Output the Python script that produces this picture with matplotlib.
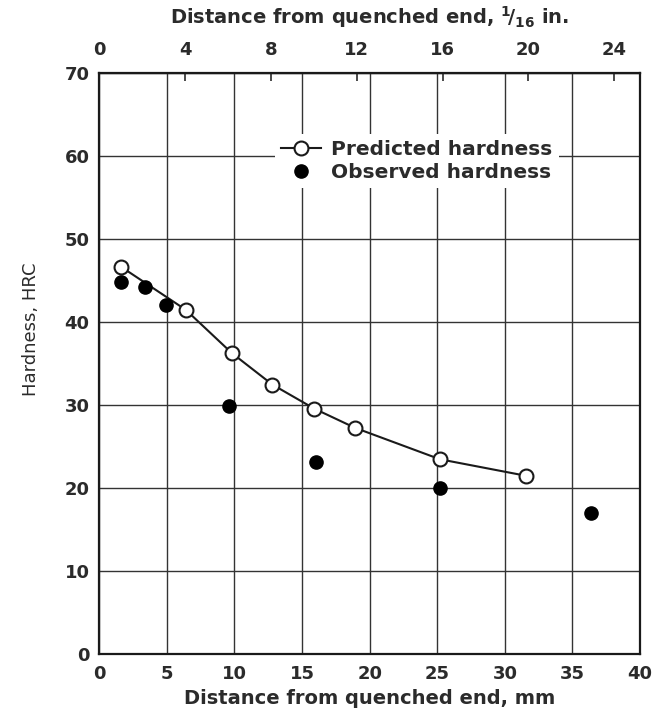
import matplotlib
matplotlib.use("Agg")
import matplotlib.pyplot as plt
import numpy as np

plt.rcParams['font.family'] = ['DejaVu Sans']
plt.rcParams['font.weight'] = 'bold'
plt.rcParams['axes.labelweight'] = 'bold'
plt.rcParams['mathtext.fontset'] = 'custom'
plt.rcParams['mathtext.rm'] = 'DejaVu Sans:bold'
plt.rcParams['mathtext.it'] = 'DejaVu Sans:bold'
plt.rcParams['mathtext.bf'] = 'DejaVu Sans:bold'

# Data (distance in mm, hardness HRC)
pred_x = [1.6, 6.4, 9.8, 12.8, 15.9, 18.9, 25.2, 31.6]
pred_y = [46.7, 41.5, 36.3, 32.5, 29.6, 27.3, 23.5, 21.5]
obs_x = [1.6, 3.4, 4.9, 9.6, 16.0, 25.2, 36.4]
obs_y = [44.9, 44.2, 42.1, 29.9, 23.2, 20.0, 17.0]

x_ticks = [0, 5, 10, 15, 20, 25, 30, 35, 40]
y_ticks = [0, 10, 20, 30, 40, 50, 60, 70]
top_ticks = [0, 4, 8, 12, 16, 20, 24]

ink = '#2b2b2b'
fig = plt.figure(figsize=(6.67, 7.14), dpi=100)
ax = fig.add_axes([0.1489, 0.0836, 0.9595 - 0.1489, 0.8973 - 0.0836])

ax.set_xlim(0, 40)
ax.set_ylim(0, 70)
ax.set_xticks(x_ticks)
ax.set_yticks(y_ticks)
ax.grid(True, color='#333333', linewidth=1.0)
ax.set_axisbelow(True)
for s in ax.spines.values():
    s.set_linewidth(1.6)
    s.set_color('#1a1a1a')
ax.tick_params(axis='x', length=0, labelsize=13, colors=ink, pad=8)
ax.tick_params(axis='y', length=0, labelsize=13, colors=ink, pad=7)

ax.plot(pred_x, pred_y, '-o', color='#1a1a1a', linewidth=1.5, markersize=10,
        markerfacecolor='white', markeredgecolor='#1a1a1a', markeredgewidth=1.5,
        label='Predicted hardness', zorder=3)
ax.plot(obs_x, obs_y, 'o', linestyle='none', color='black', markersize=9.5,
        label='Observed hardness', zorder=4)

ax.set_xlabel('Distance from quenched end, mm', fontsize=14, color=ink,
              fontweight='bold', labelpad=4)
ax.set_ylabel('Hardness, HRC', fontsize=13, color=ink, fontweight='normal')
ax.yaxis.set_label_coords(-0.11, 0.56)

mm_per_16th = 25.4 / 16
sec = ax.secondary_xaxis('top', functions=(lambda v: v / mm_per_16th, lambda n: n * mm_per_16th))
sec.set_xticks(top_ticks)
sec.tick_params(direction='in', length=6, width=1.2, labelsize=13, colors=ink, pad=10)
sec.set_xlabel('Distance from quenched end, $^{1}\\!/_{16}$ in.', fontsize=14, color=ink,
               fontweight='bold', labelpad=13)

leg = ax.legend(loc='upper left', bbox_to_anchor=(0.325, 0.895), frameon=True,
                prop={'size': 14.5, 'weight': 'bold'}, handlelength=2.0, handletextpad=0.5,
                labelspacing=0.2, borderpad=0.3, borderaxespad=0)
leg.get_frame().set_edgecolor('none')
leg.get_frame().set_facecolor('white')
leg.get_frame().set_alpha(1)
for t in leg.get_texts():
    t.set_color(ink)

fig.savefig('out.png', dpi=100)
